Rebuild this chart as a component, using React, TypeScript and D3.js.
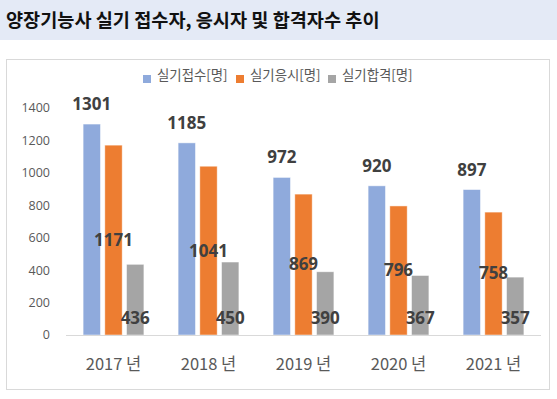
import { useMemo } from "react";
import * as d3 from "d3";

const WIDTH = 557;
const HEIGHT = 399;

const years = ["2017 년", "2018 년", "2019 년", "2020 년", "2021 년"];
const applied = [1301, 1185, 972, 920, 897];
const tested = [1171, 1041, 869, 796, 758];
const passed = [436, 450, 390, 367, 357];
const seriesNames = ["실기접수[명]", "실기응시[명]", "실기합격[명]"];
const yTicks = [0, 200, 400, 600, 800, 1000, 1200, 1400];

const COLORS = ["#8FAADC", "#ED7D31", "#A5A5A5"];
const LABEL_FONT = "'Open Sans', 'Noto Sans', sans-serif";
const KR_FONT = "'Noto Sans CJK KR', 'Noto Sans', sans-serif";

function App() {
  const x = useMemo(
    () => d3.scaleBand<string>().domain(years).range([66, 541]),
    []
  );
  const y = useMemo(
    () => d3.scaleLinear().domain([0, 1400]).range([335, 108]),
    []
  );
  const inner = useMemo(
    () =>
      d3
        .scaleBand<number>()
        .domain([0, 1, 2])
        .range([x.bandwidth() * 0.18, x.bandwidth() * 0.82])
        .paddingInner(0.2),
    [x]
  );

  const series = [applied, tested, passed];

  // legend swatch x positions
  const legendX = [143, 236, 328];

  return (
    <svg
      width={WIDTH}
      height={HEIGHT}
      style={{ position: "absolute", left: 0, top: 0, background: "#fff" }}
    >
      <rect x={0} y={0} width={WIDTH} height={40} fill="#E4EAF6" />
      <text
        x={6}
        y={27}
        fontFamily={KR_FONT}
        fontWeight={700}
        fontSize={18.6}
        fill="#111"
      >
        양장기능사 실기 접수자, 응시자 및 합격자수 추이
      </text>

      <rect
        x={6.5}
        y={59.5}
        width={543}
        height={330}
        fill="#fff"
        stroke="#D9D9D9"
      />

      {/* legend */}
      {seriesNames.map((name, i) => (
        <g key={name} transform={`translate(${legendX[i]},0)`}>
          <rect x={0} y={75} width={8} height={8} fill={COLORS[i]} />
          <text
            x={14}
            y={80}
            fontFamily={KR_FONT}
            fontSize={13.4}
            fill="#595959"
          >
            {name}
          </text>
        </g>
      ))}

      {/* y axis labels */}
      {yTicks.map((t) => (
        <text
          key={t}
          x={50}
          y={y(t)}
          dy="0.35em"
          textAnchor="end"
          fontFamily={LABEL_FONT}
          fontSize={12.5}
          fill="#595959"
        >
          {t}
        </text>
      ))}

      {/* bars */}
      {years.map((yr, gi) => (
        <g key={yr} transform={`translate(${x(yr)},0)`}>
          {series.map((vals, si) => (
            <rect
              key={si}
              x={inner(si)}
              y={y(vals[gi])}
              width={inner.bandwidth()}
              height={y(0) - y(vals[gi])}
              fill={COLORS[si]}
              stroke="#fff"
              strokeOpacity={0.6}
              strokeWidth={0.8}
            />
          ))}
        </g>
      ))}

      <line x1={66} x2={541} y1={335.5} y2={335.5} stroke="#D9D9D9" />

      {/* data labels */}
      {years.map((yr, gi) => {
        const bx = (si: number) =>
          (x(yr) ?? 0) + (inner(si) ?? 0) + inner.bandwidth() / 2;
        const style = {
          fontFamily: LABEL_FONT,
          fontWeight: 700,
          fontSize: 17,
          fill: "#404040",
        } as const;
        return (
          <g key={yr}>
            <text
              x={bx(0)}
              y={y(applied[gi]) - 20}
              dy="0.35em"
              textAnchor="middle"
              {...style}
            >
              {applied[gi]}
            </text>
            <text
              x={bx(1)}
              y={(y(tested[gi]) + y(0)) / 2}
              dy="0.35em"
              textAnchor="middle"
              {...style}
            >
              {tested[gi]}
            </text>
            <text
              x={bx(2)}
              y={y(0) - 17}
              dy="0.35em"
              textAnchor="middle"
              {...style}
            >
              {passed[gi]}
            </text>
          </g>
        );
      })}

      {/* x labels */}
      {years.map((yr) => (
        <text
          key={yr}
          x={(x(yr) ?? 0) + x.bandwidth() / 2}
          y={364}
          dy="0.35em"
          textAnchor="middle"
          fontFamily={KR_FONT}
          fontSize={16.5}
          fill="#595959"
        >
          {yr}
        </text>
      ))}
    </svg>
  );
}

export default App;
